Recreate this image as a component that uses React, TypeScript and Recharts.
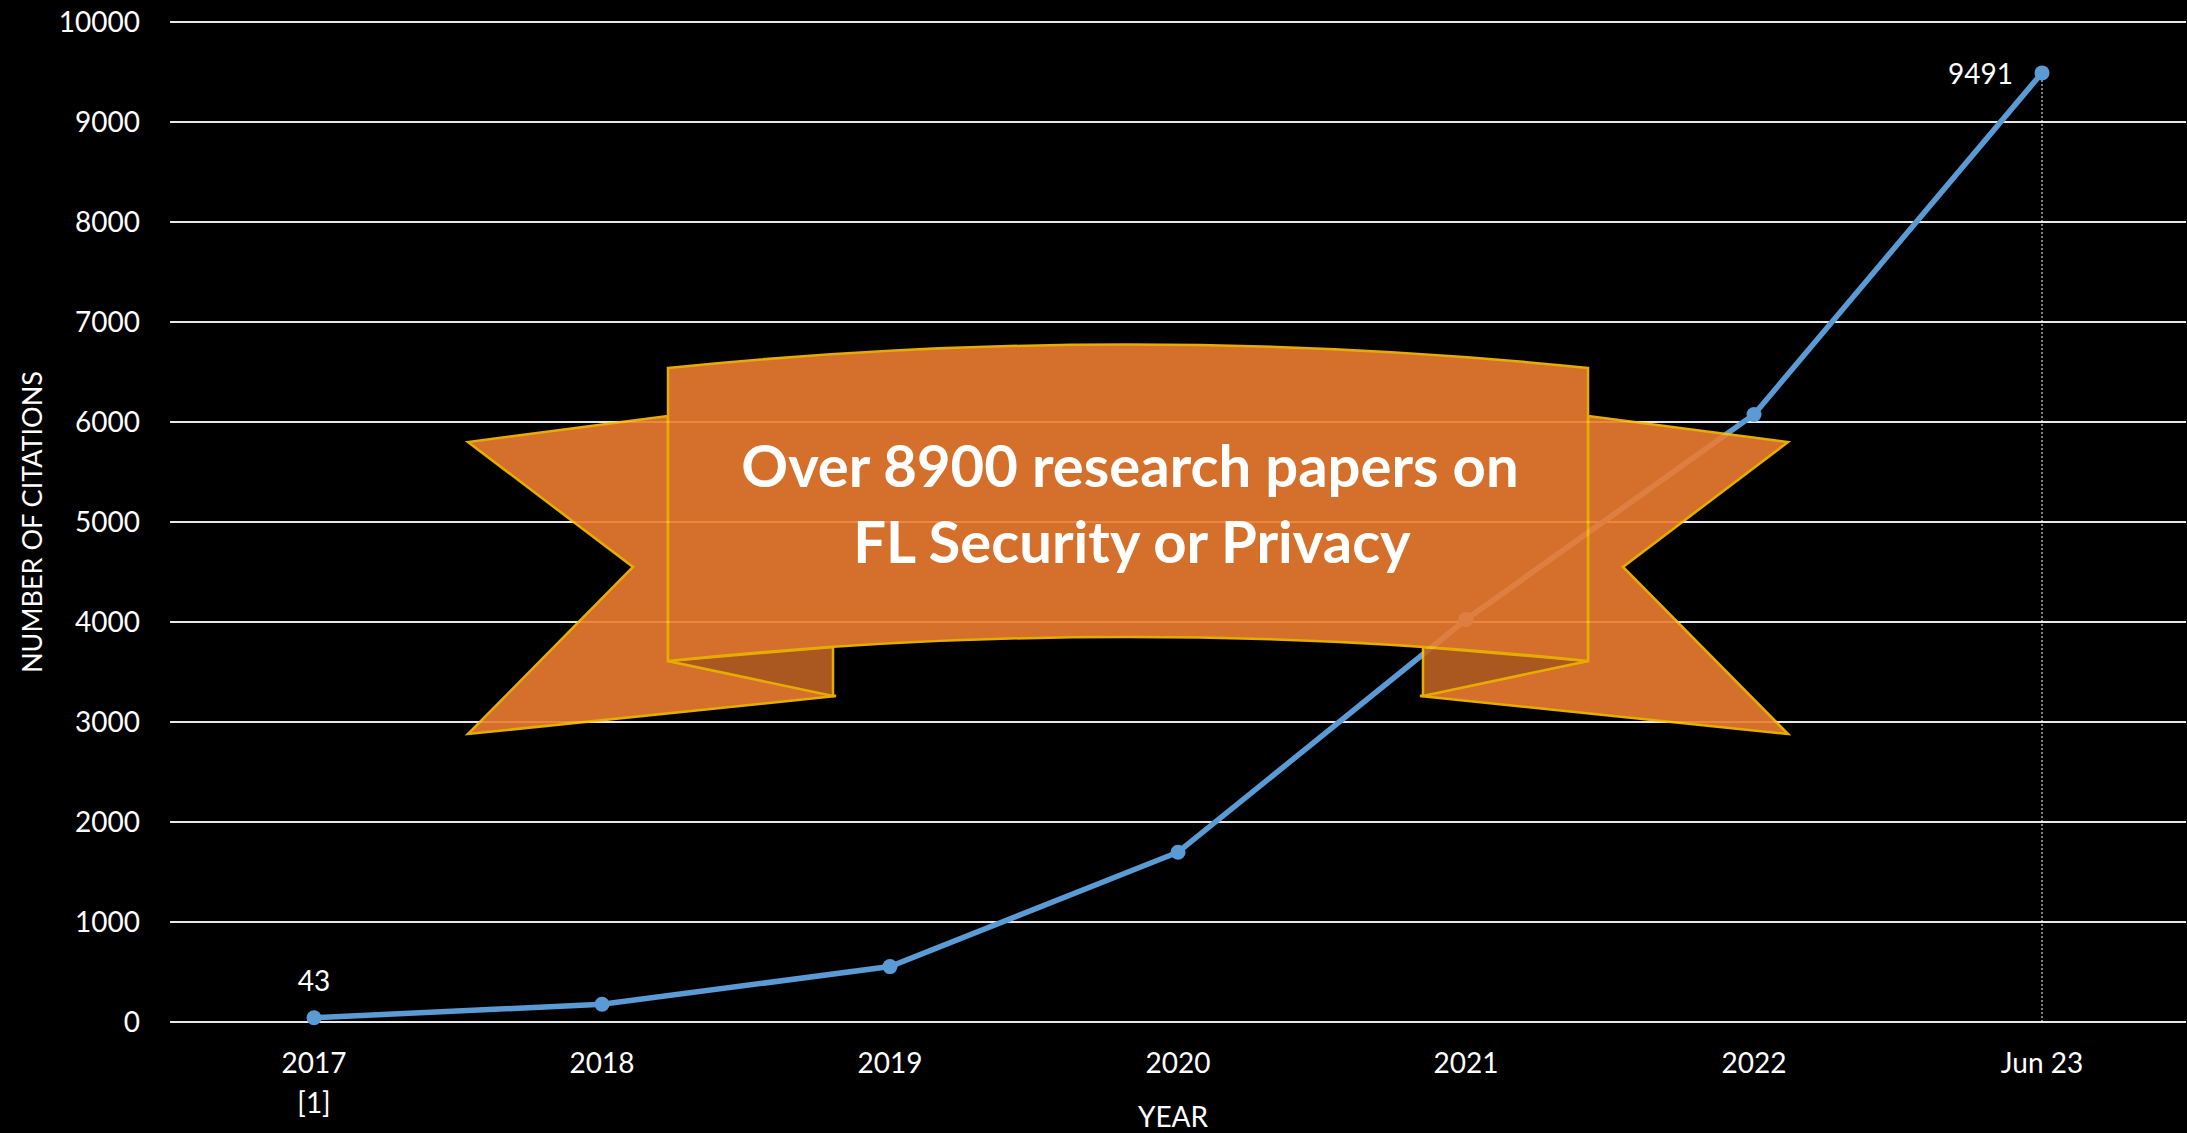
import { LineChart, Line, XAxis, YAxis, CartesianGrid, LabelList, ReferenceLine } from "recharts"

const FONT = "Lato, 'Open Sans', sans-serif"

const years = ["2017", "2018", "2019", "2020", "2021", "2022", "Jun 23"]
const yearNotes = ["[1]", "", "", "", "", "", ""]
const citations = [43, 177, 554, 1698, 4025, 6075, 9491]
const yTicks = [0, 1000, 2000, 3000, 4000, 5000, 6000, 7000, 8000, 9000, 10000]
const bannerLines = ["Over 8900 research papers on", "FL Security or Privacy"]

const data = years.map((year, i) => ({ year, note: yearNotes[i], citations: citations[i] }))
const lastIndex = data.length - 1

function YearTick({ x, y, payload }: any) {
  const note = yearNotes[payload.index]
  return (
    <g transform={`translate(${x},${y})`}>
      <text textAnchor="middle" fill="#fff" fontSize={28} fontFamily={FONT}>
        <tspan x={0} dy="0.71em">{payload.value}</tspan>
        {note ? <tspan x={0} dy="1.43em">{note}</tspan> : null}
      </text>
    </g>
  )
}

function PointLabel({ x, y, value, index }: any) {
  if (index === 0) {
    return (
      <text x={x} y={y - 38} textAnchor="middle" dominantBaseline="central" fill="#fff" fontSize={28} fontFamily={FONT}>
        {value}
      </text>
    )
  }
  if (index === lastIndex) {
    return (
      <text x={x - 29} y={y} textAnchor="end" dominantBaseline="central" fill="#fff" fontSize={28} fontFamily={FONT}>
        {value}
      </text>
    )
  }
  return null
}

// ribbon shape drawn over the plot (not data)
function Banner() {
  const stroke = "#FFC000"
  return (
    <svg width={2187} height={1133} style={{ position: "absolute", left: 0, top: 0, pointerEvents: "none" }}>
      <g opacity={0.9}>
        <path d="M668,416 L468,442 L633,567 L468,734 L836,696 L668,661 Z" fill="#ED7D31" stroke={stroke} strokeWidth={2.5} />
        <path d="M1588,416 L1788,442 L1623,567 L1788,734 L1420,696 L1588,661 Z" fill="#ED7D31" stroke={stroke} strokeWidth={2.5} />
        <path d="M668,661 L833,696 L833,647 Z" fill="#BE6224" stroke={stroke} strokeWidth={2.5} />
        <path d="M1588,661 L1423,696 L1423,647 Z" fill="#BE6224" stroke={stroke} strokeWidth={2.5} />
        <path d="M668,368 Q1128,321 1588,368 L1588,661 Q1128,613 668,661 Z" fill="#ED7D31" stroke={stroke} strokeWidth={2.5} />
      </g>
      <text x={1130} y={487} textAnchor="middle" fill="#fff" fontSize={58} fontWeight={700} fontFamily={FONT}>
        {bannerLines[0]}
      </text>
      <text x={1132} y={563} textAnchor="middle" fill="#fff" fontSize={58} fontWeight={700} fontFamily={FONT}>
        {bannerLines[1]}
      </text>
    </svg>
  )
}

export default function App() {
  return (
    <div style={{ position: "absolute", left: 0, top: 0, width: 2187, height: 1133, background: "#000", overflow: "hidden" }}>
      <LineChart width={2187} height={1133} data={data} margin={{ top: 22, right: 1, bottom: 0, left: 0 }}>
        <CartesianGrid vertical={false} stroke="#e8e8e8" strokeWidth={2} />
        <XAxis
          dataKey="year"
          scale="band"
          height={111}
          axisLine={false}
          tickLine={false}
          tickSize={6}
          tickMargin={25}
          interval={0}
          tick={<YearTick />}
          label={(props: any) => {
            const vb = props.viewBox
            return (
              <text x={vb.x + vb.width / 2 - 5} y={1116} textAnchor="middle" dominantBaseline="central" fill="#fff" fontSize={28} fontFamily={FONT}>
                YEAR
              </text>
            )
          }}
        />
        <YAxis
          type="number"
          width={170}
          domain={[0, 10000]}
          ticks={yTicks}
          interval={0}
          axisLine={false}
          tickLine={false}
          tickSize={6}
          tickMargin={24}
          tick={{ fill: "#fff", fontSize: 28, fontFamily: FONT }}
          label={(props: any) => {
            const vb = props.viewBox
            const cy = vb.y + vb.height / 2
            return (
              <text x={31} y={cy} transform={`rotate(-90, 31, ${cy})`} textAnchor="middle" dominantBaseline="central" fill="#fff" fontSize={27} fontFamily={FONT}>
                NUMBER OF CITATIONS
              </text>
            )
          }}
        />
        <ReferenceLine
          segment={[
            { x: years[lastIndex], y: 0 },
            { x: years[lastIndex], y: citations[lastIndex] },
          ]}
          stroke="#fff"
          strokeWidth={1}
          strokeDasharray="2 2"
        />
        <Line
          type="linear"
          dataKey="citations"
          stroke="#5B9BD5"
          strokeWidth={5.5}
          dot={{ r: 7.5, fill: "#5B9BD5", stroke: "#5B9BD5", strokeWidth: 0 }}
          isAnimationActive={false}
        >
          <LabelList dataKey="citations" content={<PointLabel />} />
        </Line>
      </LineChart>
      <Banner />
    </div>
  )
}
